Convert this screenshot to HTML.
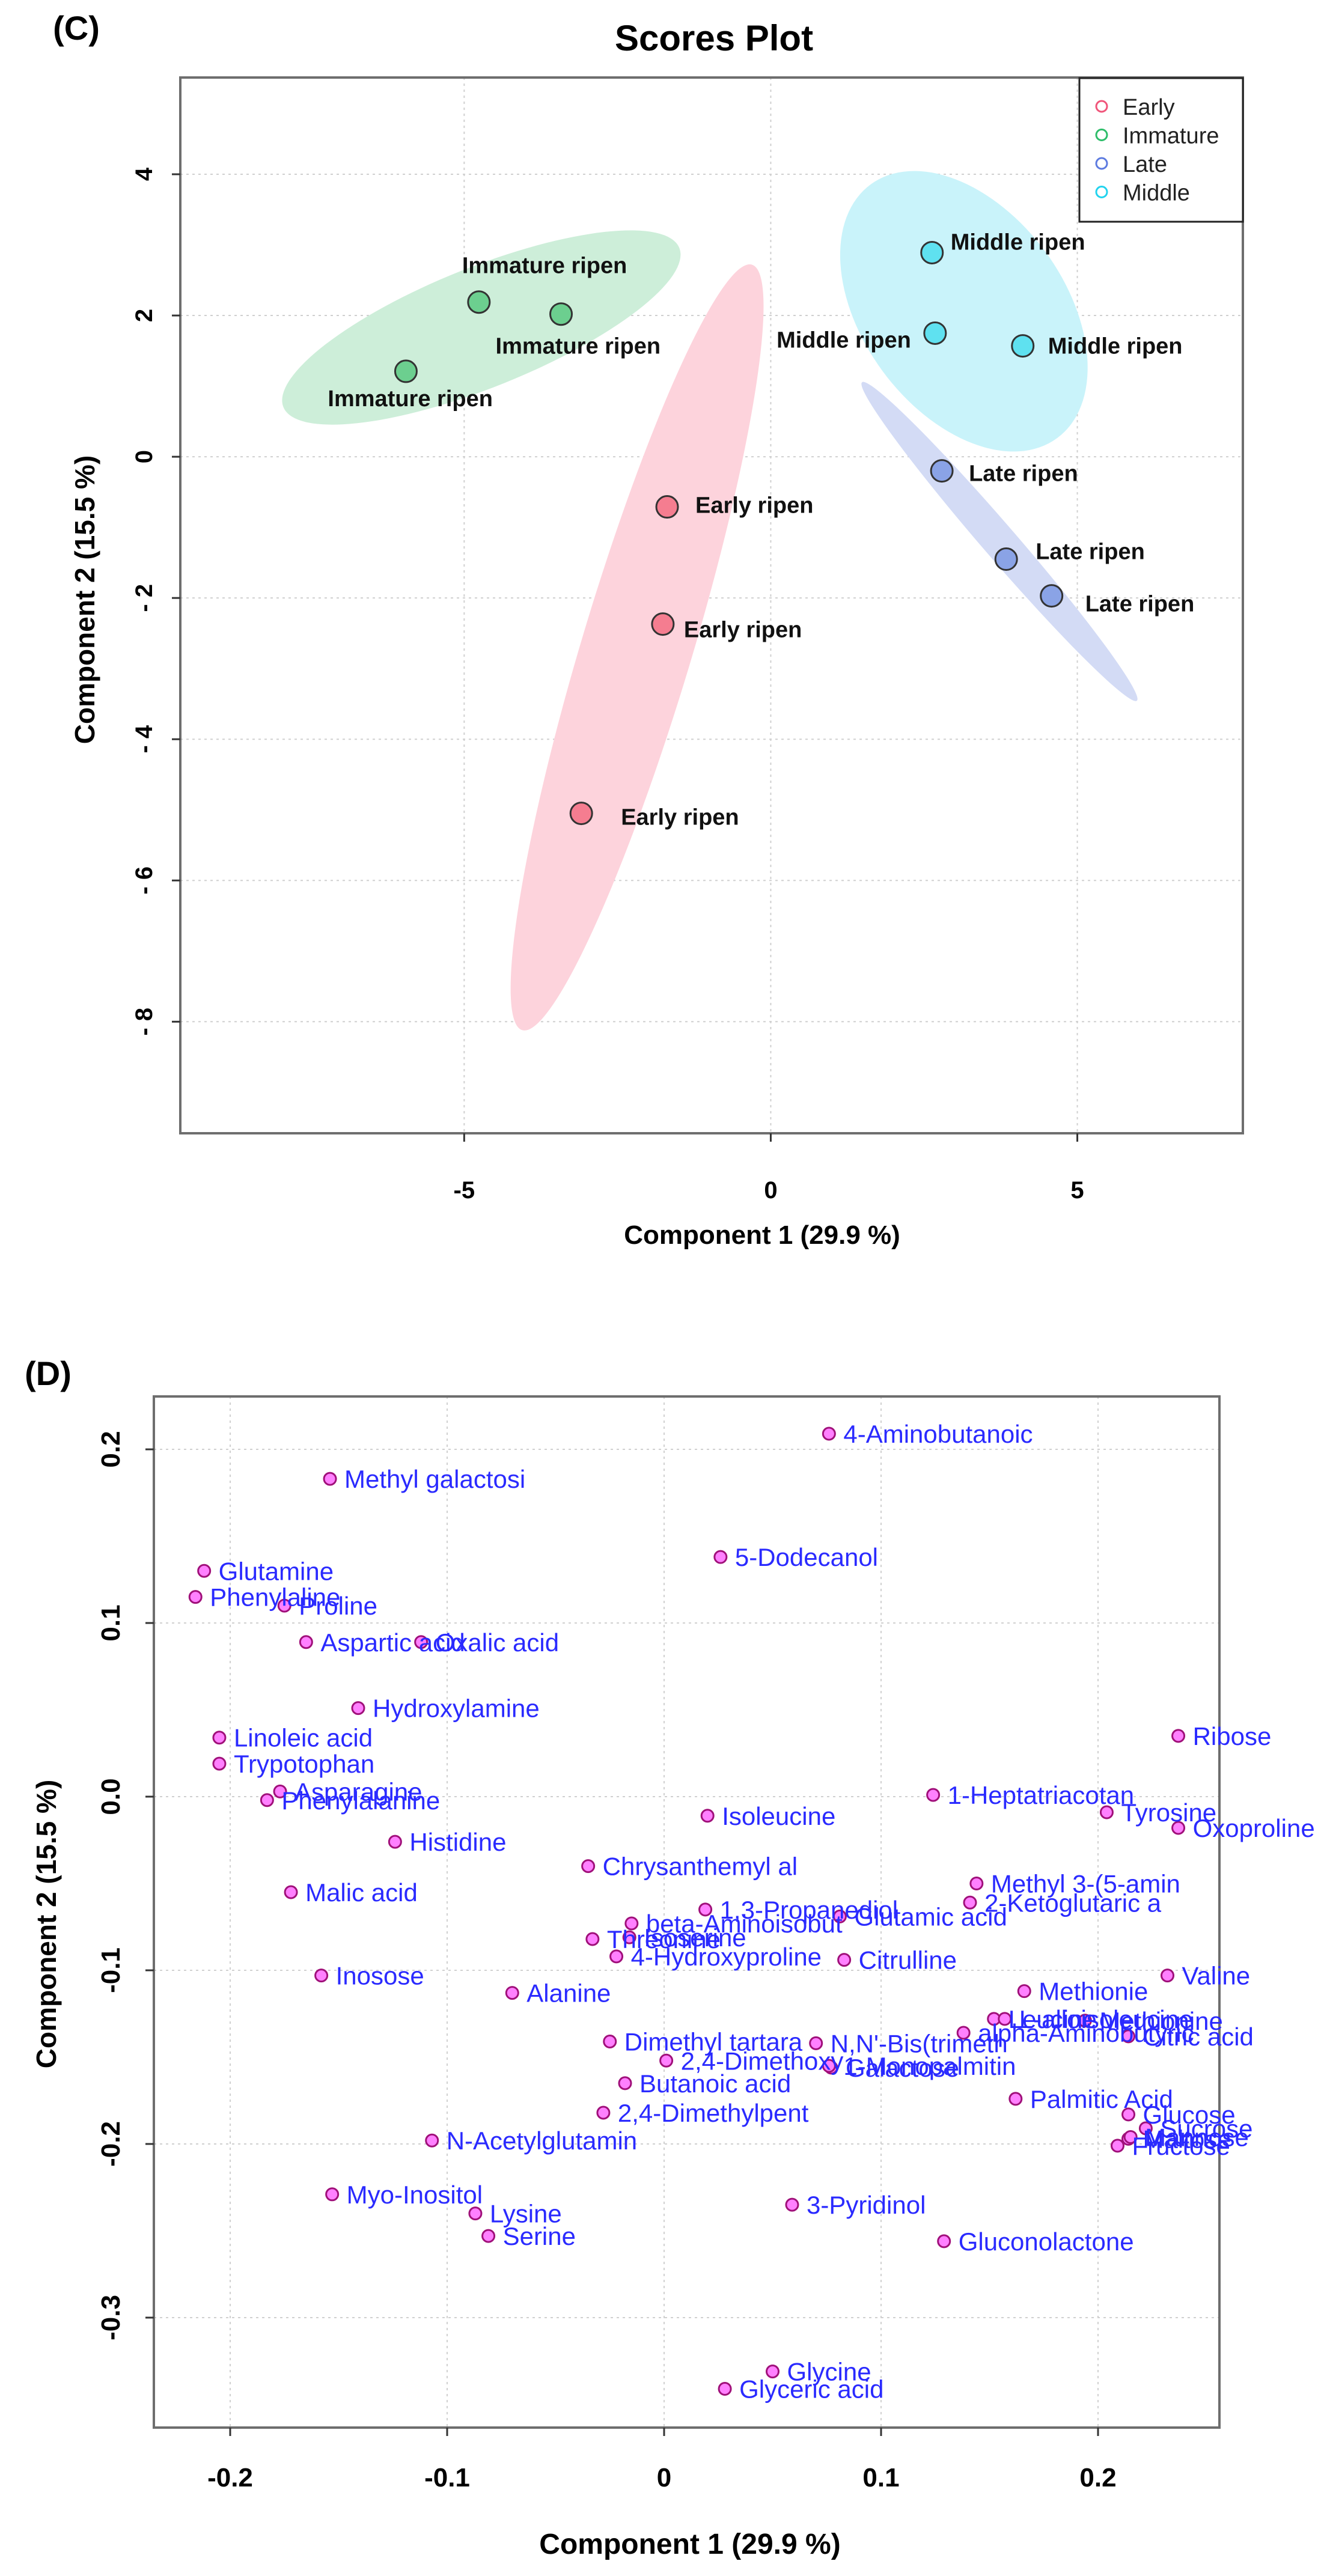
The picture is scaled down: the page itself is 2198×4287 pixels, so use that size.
<!DOCTYPE html>
<html><head><meta charset="utf-8"><style>
html,body{margin:0;padding:0;background:#fff;}
svg{display:block;font-family:"Liberation Sans",Arial,sans-serif;}
</style></head><body>
<svg id="fig" width="2198" height="4287" viewBox="0 0 2198 4287" xmlns="http://www.w3.org/2000/svg">
<rect x="0" y="0" width="2198" height="4287" fill="#fff"/>
<g id="C"></g>
<g id="D"></g>
</svg>
<script>
// ===== Panel C data =====
const cLabels = ["Immature ripen","Immature ripen","Immature ripen","Early ripen","Early ripen","Early ripen","Middle ripen","Middle ripen","Middle ripen","Late ripen","Late ripen","Late ripen"];
const cGroups = ["Immature","Immature","Immature","Early","Early","Early","Middle","Middle","Middle","Late","Late","Late"];
const cX = [-4.76,-3.42,-5.95,-1.69,-1.76,-3.09,2.63,2.68,4.11,2.79,3.84,4.58];
const cY = [2.19,2.02,1.21,-0.71,-2.37,-5.05,2.89,1.75,1.57,-0.20,-1.45,-1.97];
const cXTicks = [-5,0,5];
const cYTicks = [4,2,0,-2,-4,-6,-8];
const cLegend = ["Early","Immature","Late","Middle"];
const cEllCX = [-4.72,-2.18,3.15,3.73];
const cEllCY = [1.83,-2.70,2.06,-1.20];
const cEllGroups = ["Immature","Early","Middle","Late"];

// ===== Panel D data =====
const dNames = ["4-Aminobutanoic","Methyl galactosi","Glutamine","Phenylaline","Proline","5-Dodecanol","Aspartic acid","Oxalic acid","Hydroxylamine","Linoleic acid","Trypotophan","Asparagine","Phenylalanine","Ribose","1-Heptatriacotan","Tyrosine","Oxoproline","Isoleucine","Histidine","Chrysanthemyl al","Malic acid","Methyl 3-(5-amin","2-Ketoglutaric a","1,3-Propanediol","Glutamic acid","beta-Aminoisobut","Threonine","Isoserine","4-Hydroxyproline","Citrulline","Valine","Inosose","Alanine","Methionie","Leucine","L-alloisoleucine","Methionine","alpha-Aminobutyric","Citric acid","Dimethyl tartara","N,N'-Bis(trimeth","2,4-Dimethoxy","Galactose","1-Monopalmitin","Butanoic acid","Palmitic Acid","2,4-Dimethylpent","Glucose","Sucrose","Maltose","Mannose","Fructose","N-Acetylglutamin","Myo-Inositol","Lysine","3-Pyridinol","Serine","Gluconolactone","Glycine","Glyceric acid"];
const dX = [0.076,-0.154,-0.212,-0.216,-0.175,0.026,-0.165,-0.112,-0.141,-0.205,-0.205,-0.177,-0.183,0.237,0.124,0.204,0.237,0.020,-0.124,-0.035,-0.172,0.144,0.141,0.019,0.081,-0.015,-0.033,-0.016,-0.022,0.083,0.232,-0.158,-0.070,0.166,0.152,0.157,0.194,0.138,0.214,-0.025,0.070,0.001,0.077,0.076,-0.018,0.162,-0.028,0.214,0.222,0.214,0.215,0.209,-0.107,-0.153,-0.087,0.059,-0.081,0.129,0.050,0.028];
const dY = [0.209,0.183,0.130,0.115,0.110,0.138,0.089,0.089,0.051,0.034,0.019,0.003,-0.002,0.035,0.001,-0.009,-0.018,-0.011,-0.026,-0.040,-0.055,-0.050,-0.061,-0.065,-0.069,-0.073,-0.082,-0.081,-0.092,-0.094,-0.103,-0.103,-0.113,-0.112,-0.128,-0.128,-0.129,-0.136,-0.138,-0.141,-0.142,-0.152,-0.156,-0.155,-0.165,-0.174,-0.182,-0.183,-0.191,-0.197,-0.196,-0.201,-0.198,-0.229,-0.240,-0.235,-0.253,-0.256,-0.331,-0.341];
const dXTicks = [-0.2,-0.1,0,0.1,0.2];
const dXTickLabels = ["-0.2","-0.1","0","0.1","0.2"];
const dYTicks = [0.2,0.1,0.0,-0.1,-0.2,-0.3];
const dYTickLabels = ["0.2","0.1","0.0","-0.1","-0.2","-0.3"];

const NS = "http://www.w3.org/2000/svg";
function mk(parent, tag, attrs, text){
  const e = document.createElementNS(NS, tag);
  for (const k in attrs) e.setAttribute(k, attrs[k]);
  if (text !== undefined) e.textContent = text;
  parent.appendChild(e);
  return e;
}

// ---------- Panel C ----------
(function(){
  const g = document.getElementById('C');
  const L=300,R=2068,T=129,B=1886;
  const xmin=-9.63,xmax=7.70,ymin=-9.58,ymax=5.37;
  const sx = v => L + (v-xmin)/(xmax-xmin)*(R-L);
  const sy = v => B - (v-ymin)/(ymax-ymin)*(B-T);
  const fills = {Early:"#f57d90",Immature:"#6ccf8f",Late:"#8aa3e6",Middle:"#5fe1f0"};
  const lcol = {Early:"#f0557a",Immature:"#2ebd6a",Late:"#5d7be0",Middle:"#22d3ee"};
  const ellFill = {Early:"#fdd3dc",Immature:"#cdeed9",Late:"#d3dbf5",Middle:"#c9f3fa"};
  const ellShape = {Immature:[355,100,-21.9],Early:[665,92,106.7],Middle:[262,168,53.7],Late:[350,28,49.2]};

  let t = mk(g,'text',{x:127,y:66,'font-size':56,'font-weight':'bold','text-anchor':'middle'},'(C)');
   
  t = mk(g,'text',{x:1188,y:84,'font-size':60,'font-weight':'bold','text-anchor':'middle'},'Scores Plot');
   

  // grid
  cXTicks.forEach(v=>{
    const l = mk(g,'line',{x1:sx(v),x2:sx(v),y1:T,y2:B,stroke:'#d0d0d0','stroke-width':2,'stroke-dasharray':'4 6'});
     
  });
  cYTicks.forEach(v=>{
    const l = mk(g,'line',{x1:L,x2:R,y1:sy(v),y2:sy(v),stroke:'#d0d0d0','stroke-width':2,'stroke-dasharray':'4 6'});
     
  });

  // ellipses
  cEllGroups.forEach((gr,i)=>{
    const s = ellShape[gr];
    const e = mk(g,'ellipse',{cx:0,cy:0,rx:s[0],ry:s[1],fill:ellFill[gr],
      transform:`translate(${sx(cEllCX[i])},${sy(cEllCY[i])}) rotate(${s[2]})`});
     
  });

  // box
  let b = mk(g,'rect',{x:L,y:T,width:R-L,height:B-T,fill:'none',stroke:'#6e6e6e','stroke-width':4});
   

  // ticks
  cXTicks.forEach(v=>{
    const l = mk(g,'line',{x1:sx(v),x2:sx(v),y1:B,y2:B+14,stroke:'#333','stroke-width':3});
     
    const tt = mk(g,'text',{x:sx(v),y:1994,'font-size':40,'font-weight':'bold','text-anchor':'middle'}, v<0?('-'+Math.abs(v)):String(v));
     
  });
  cYTicks.forEach(v=>{
    const l = mk(g,'line',{x1:L-14,x2:L,y1:sy(v),y2:sy(v),stroke:'#333','stroke-width':3});
     
    const tt = mk(g,'text',{x:0,y:0,'font-size':40,'font-weight':'bold','text-anchor':'middle',
      transform:`translate(253,${sy(v)}) rotate(-90)`}, v<0?('- '+Math.abs(v)):String(v));
     
  });
  t = mk(g,'text',{x:1268,y:2070,'font-size':44,'font-weight':'bold','text-anchor':'middle'},'Component 1 (29.9 %)');
   
  t = mk(g,'text',{x:0,y:0,'font-size':46,'font-weight':'bold','text-anchor':'middle',transform:'translate(157,998) rotate(-90)'},'Component 2 (15.5 %)');
   

  // points & labels
  const off = [[-28,-62,'start'],[-109,52,'start'],[-130,44,'start'],[47,-4,'start'],[35,8,'start'],[66,5,'start'],[31,-19,'start'],[-40,10,'end'],[42,-1,'start'],[45,3,'start'],[49,-14,'start'],[56,12,'start']];
  cX.forEach((v,i)=>{
    const px=sx(v), py=sy(cY[i]);
    const c = mk(g,'circle',{cx:px,cy:py,r:18,fill:fills[cGroups[i]],stroke:'#333','stroke-width':3});
     
    const o = off[i];
    const tt = mk(g,'text',{x:px+o[0],y:py+o[1]+14,'font-size':38,'font-weight':'bold','text-anchor':o[2],fill:'#111'},cLabels[i]);
     
  });

  // legend
  const lg = mk(g,'g',{});
   
  const lr = mk(lg,'rect',{x:1796,y:130,width:272,height:239,fill:'#fff',stroke:'#222','stroke-width':3});
   
  cLegend.forEach((n,i)=>{
    const y = 177 + i*47.5;
    const c = mk(lg,'circle',{cx:1833,cy:y,r:9,fill:'none',stroke:lcol[n],'stroke-width':3});
     
    const tt = mk(lg,'text',{x:1868,y:y+14,'font-size':38,fill:'#222'},n);
     
  });
})();

// ---------- Panel D ----------
(function(){
  const g = document.getElementById('D');
  const L=256,R=2029,T=2324,B=4040;
  const x0=1105, xs=3610, y0=2990, ys=2890;
  const sx = v => x0 + v*xs;
  const sy = v => y0 - v*ys;

  let t = mk(g,'text',{x:80,y:2305,'font-size':56,'font-weight':'bold','text-anchor':'middle'},'(D)');
   

  dXTicks.forEach(v=>{
    const l = mk(g,'line',{x1:sx(v),x2:sx(v),y1:T,y2:B,stroke:'#d0d0d0','stroke-width':2,'stroke-dasharray':'4 6'});
     
  });
  dYTicks.forEach(v=>{
    const l = mk(g,'line',{x1:L,x2:R,y1:sy(v),y2:sy(v),stroke:'#d0d0d0','stroke-width':2,'stroke-dasharray':'4 6'});
     
  });
  let b = mk(g,'rect',{x:L,y:T,width:R-L,height:B-T,fill:'none',stroke:'#6e6e6e','stroke-width':4});
   

  dXTicks.forEach((v,i)=>{
    const l = mk(g,'line',{x1:sx(v),x2:sx(v),y1:B,y2:B+14,stroke:'#333','stroke-width':3});
     
    const tt = mk(g,'text',{x:sx(v),y:4138,'font-size':44,'font-weight':'bold','text-anchor':'middle'},dXTickLabels[i]);
     
  });
  dYTicks.forEach((v,i)=>{
    const l = mk(g,'line',{x1:L-14,x2:L,y1:sy(v),y2:sy(v),stroke:'#333','stroke-width':3});
     
    const tt = mk(g,'text',{x:0,y:0,'font-size':44,'font-weight':'bold','text-anchor':'middle',transform:`translate(199,${sy(v)}) rotate(-90)`},dYTickLabels[i]);
     
  });
  t = mk(g,'text',{x:1148,y:4250,'font-size':48,'font-weight':'bold','text-anchor':'middle'},'Component 1 (29.9 %)');
   
  t = mk(g,'text',{x:0,y:0,'font-size':46,'font-weight':'bold','text-anchor':'middle',transform:'translate(93,3202) rotate(-90)'},'Component 2 (15.5 %)');
   

  dX.forEach((v,i)=>{
    const px=sx(v), py=sy(dY[i]);
    const c = mk(g,'circle',{cx:px,cy:py,r:10,fill:'#ff80ff',stroke:'#a0107a','stroke-width':3});
     
  });
  dX.forEach((v,i)=>{
    const px=sx(v), py=sy(dY[i]);
    const tt = mk(g,'text',{x:px+24,y:py+15,'font-size':42,fill:'#2a2aff'},dNames[i]);
     
  });
})();
</script>
</body></html>
